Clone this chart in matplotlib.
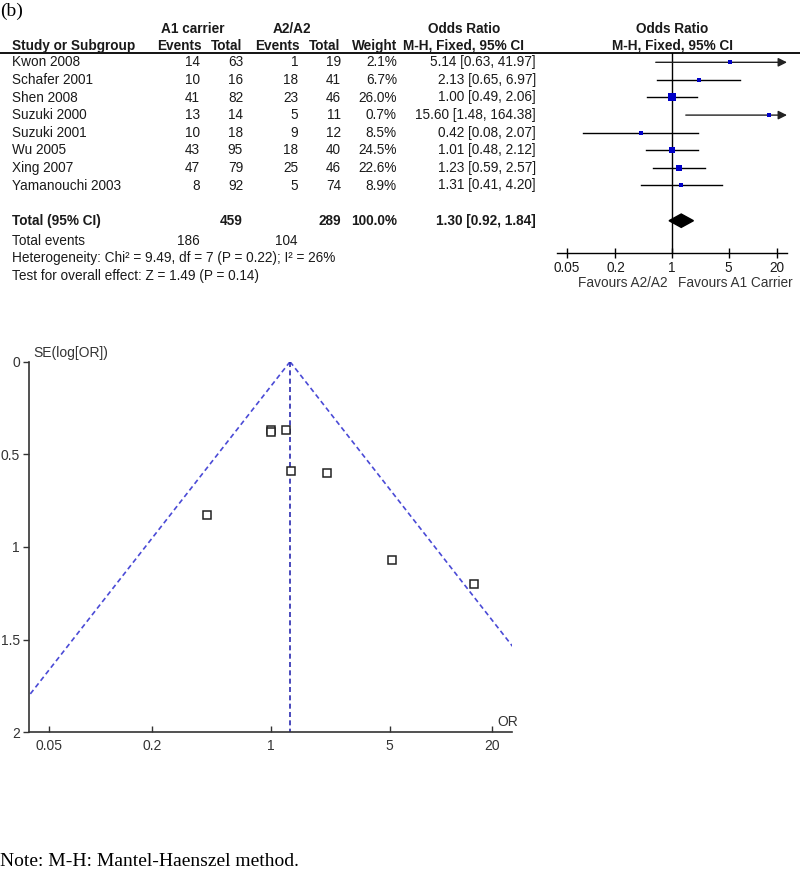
import numpy as np
import matplotlib
matplotlib.use("Agg")
import matplotlib.pyplot as plt
from matplotlib.lines import Line2D
from matplotlib.patches import Polygon
from matplotlib.transforms import blended_transform_factory

# data (b)
studies = ["Kwon 2008", "Schafer 2001", "Shen 2008", "Suzuki 2000",
           "Suzuki 2001", "Wu 2005", "Xing 2007", "Yamanouchi 2003"]
a1_events = [14, 10, 41, 13, 10, 43, 47, 8]
a1_total = [63, 16, 82, 14, 18, 95, 79, 92]
a2_events = [1, 18, 23, 5, 9, 18, 25, 5]
a2_total = [19, 41, 46, 11, 12, 40, 46, 74]
weights = [2.1, 6.7, 26.0, 0.7, 8.5, 24.5, 22.6, 8.9]
odds = [5.14, 2.13, 1.00, 15.60, 0.42, 1.01, 1.23, 1.31]
ci_low = [0.63, 0.65, 0.49, 1.48, 0.08, 0.48, 0.59, 0.41]
ci_high = [41.97, 6.97, 2.06, 164.38, 2.07, 2.12, 2.57, 4.20]
# funnel plot y values
se_log = [1.07, 0.60, 0.37, 1.20, 0.83, 0.38, 0.37, 0.59]

total_or = 1.30
total_ci = [0.92, 1.84]
total_a1, total_a2 = 459, 289
events_a1, events_a2 = 186, 104
or_ticks = [0.05, 0.2, 1, 5, 20]
se_ticks = [0, 0.5, 1, 1.5, 2]

W, H = 800, 875
XLIM = (1 / 26.3, 26.3)
SANS = ["Liberation Sans", "DejaVu Sans"]
NARROW = ["Liberation Sans Narrow", "Liberation Sans", "DejaVu Sans"]
SERIF = ["Liberation Serif", "DejaVu Serif"]
FS = 9.8

plt.rcParams["font.family"] = SANS
fig = plt.figure(figsize=(W / 100, H / 100), dpi=100)


def fy(y):
    return 1 - y / H


def ptext(x, y, s, **kw):
    kw.setdefault("fontsize", FS)
    kw.setdefault("va", "center")
    kw.setdefault("color", "#1a1a1a")
    fig.text(x / W, fy(y), s, **kw)


def add_axes_px(x0, y0, x1, y1):
    return fig.add_axes([x0 / W, fy(y1), (x1 - x0) / W, (y1 - y0) / H])


# ---------------- forest plot ----------------
row0, dy = 62.3, 17.6
top_px, axis_px = 52.5, 253
fax = add_axes_px(557, top_px, 787, axis_px)
fax.set_xscale("log")
fax.set_xlim(*XLIM)
fax.set_ylim((axis_px - row0) / dy, (top_px - row0) / dy)
for s in ["top", "left", "right"]:
    fax.spines[s].set_visible(False)
fax.spines["bottom"].set_linewidth(1.0)
fax.set_yticks([])
fax.set_xticks(or_ticks)
fax.set_xticklabels([f"{t:g}" for t in or_ticks])
fax.xaxis.set_minor_locator(matplotlib.ticker.NullLocator())
fax.tick_params(axis="x", direction="inout", length=7, width=1, pad=2,
                labelsize=FS, labelcolor="#1a1a1a")
fax.patch.set_alpha(0)
fax.axvline(1, color="black", lw=1)

n = len(studies)
for i in range(n):
    lo, hi = ci_low[i], ci_high[i]
    if hi > XLIM[1]:
        fax.annotate("", xy=(XLIM[1], i), xytext=(lo, i),
                     arrowprops=dict(arrowstyle="-|>", color="#222222", lw=1,
                                     mutation_scale=13, shrinkA=0, shrinkB=0))
    else:
        fax.plot([lo, hi], [i, i], color="black", lw=1)
    side = max(1.4 * np.sqrt(weights[i]), 3.2) * 0.72
    fax.plot(odds[i], i, marker="s", ms=side, color="#0000c8", mec="#0000c8",
             mew=0, zorder=3)

ty = 9
fax.add_patch(Polygon([(total_ci[0], ty), (total_or, ty - 0.38),
                       (total_ci[1], ty), (total_or, ty + 0.38)],
                      closed=True, color="black", zorder=3))

# table text, rows tied to forest axes
tr = blended_transform_factory(fig.transFigure, fax.transData)


def rtext(x, row, s, **kw):
    kw.setdefault("fontsize", FS)
    kw.setdefault("va", "center")
    kw.setdefault("color", "#1a1a1a")
    fig.text(x / W, row, s, transform=tr, **kw)


for i in range(n):
    rtext(12, i, studies[i])
    rtext(200, i, str(a1_events[i]), ha="right")
    rtext(243, i, str(a1_total[i]), ha="right")
    rtext(298, i, str(a2_events[i]), ha="right")
    rtext(341, i, str(a2_total[i]), ha="right")
    rtext(397, i, f"{weights[i]:.1f}%", ha="right")
    rtext(536, i, f"{odds[i]:.2f} [{ci_low[i]:.2f}, {ci_high[i]:.2f}]", ha="right")

rtext(12, ty, "Total (95% CI)", fontweight="bold")
rtext(243, ty, str(total_a1), ha="right", fontweight="bold")
rtext(341, ty, str(total_a2), ha="right", fontweight="bold")
rtext(397, ty, f"{sum(weights):.1f}%", ha="right", fontweight="bold")
rtext(536, ty, f"{total_or:.2f} [{total_ci[0]:.2f}, {total_ci[1]:.2f}]",
      ha="right", fontweight="bold")

ptext(12, 241, "Total events")
ptext(200, 241, str(events_a1), ha="right")
ptext(298, 241, str(events_a2), ha="right")
ptext(12, 258, "Heterogeneity: Chi\u00b2 = 9.49, df = 7 (P = 0.22); I\u00b2 = 26%")
ptext(12, 276, "Test for overall effect: Z = 1.49 (P = 0.14)")

# headers
ptext(193, 29, "A1 carrier", ha="center", fontweight="bold")
ptext(292, 29, "A2/A2", ha="center", fontweight="bold")
ptext(464, 29, "Odds Ratio", ha="center", fontweight="bold")
ptext(672, 29, "Odds Ratio", ha="center", fontweight="bold")
ptext(12, 46, "Study or Subgroup", fontweight="bold")
ptext(179, 46, "Events", ha="center", fontweight="bold")
ptext(227, 46, "Total", ha="center", fontweight="bold")
ptext(277, 46, "Events", ha="center", fontweight="bold")
ptext(325, 46, "Total", ha="center", fontweight="bold")
ptext(375, 46, "Weight", ha="center", fontweight="bold")
ptext(464, 46, "M-H, Fixed, 95% CI", ha="center", fontweight="bold")
ptext(672, 46, "M-H, Fixed, 95% CI", ha="center", fontweight="bold")
fig.add_artist(Line2D([0, 1], [fy(top_px), fy(top_px)], color="black", lw=1.3))

ptext(667, 283, "Favours A2/A2", ha="right", color="#333333")
ptext(678, 283, "Favours A1 Carrier", ha="left", color="#333333")

ptext(0, 11, "(b)", family=SERIF, fontsize=14, color="black")

# ---------------- funnel plot ----------------
gax = add_axes_px(29, 361.7, 512.3, 732.3)
gax.set_xscale("log")
gax.set_xlim(*XLIM)
gax.set_ylim(2, 0)
for s in ["top", "right"]:
    gax.spines[s].set_visible(False)
for s in ["left", "bottom"]:
    gax.spines[s].set_color("#333333")
    gax.spines[s].set_linewidth(1.2)
gax.set_xticks(or_ticks)
gax.set_xticklabels([f"{t:g}" for t in or_ticks], family=NARROW)
gax.xaxis.set_minor_locator(matplotlib.ticker.NullLocator())
gax.set_yticks(se_ticks)
gax.set_yticklabels([f"{t:g}" for t in se_ticks], family=NARROW)
gax.tick_params(axis="x", direction="in", length=4.5, width=1, pad=5,
                labelsize=10, colors="#333333")
gax.tick_params(axis="y", direction="out", length=4.5, width=1, pad=2,
                labelsize=10, colors="#333333")
gax.patch.set_alpha(0)

se_range = np.array([0, 2.0])
ln_or = np.log(total_or)
gax.plot(np.exp(ln_or - 1.96 * se_range), se_range, ls=(0, (3, 2)),
         color="#4a4ad6", lw=1.2)
gax.plot(np.exp(ln_or + 1.96 * se_range), se_range, ls=(0, (3, 2)),
         color="#4a4ad6", lw=1.2)
gax.plot([total_or, total_or], se_range, ls=(0, (3, 2)), color="#2a2ab0", lw=1.2)
gax.plot(odds, se_log, ls="none", marker="s", ms=5.6, mfc="white",
         mec="#222222", mew=1.1, zorder=3)

ptext(33, 353, "SE(log[OR])", fontsize=10, family=NARROW, color="#333333")
ptext(497, 722, "OR", fontsize=10, family=NARROW, color="#333333")

ptext(0, 862, "Note: M-H: Mantel-Haenszel method.", family=SERIF, fontsize=14,
      color="black")

fig.savefig("out.png", dpi=100)
